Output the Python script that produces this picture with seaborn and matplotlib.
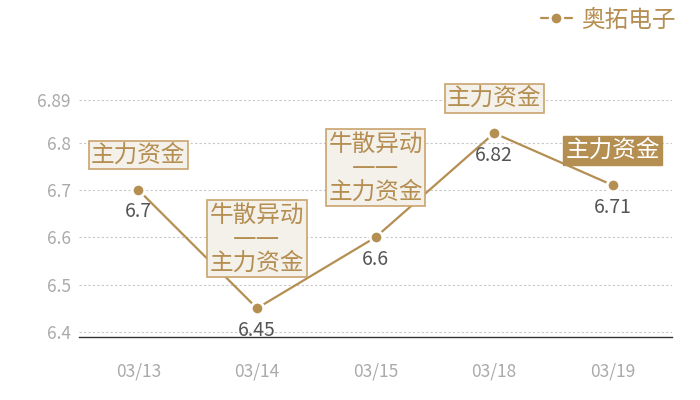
import matplotlib
matplotlib.use("Agg")
import matplotlib.pyplot as plt
import seaborn as sns
import pandas as pd

dates = ["03/13", "03/14", "03/15", "03/18", "03/19"]
prices = [6.7, 6.45, 6.6, 6.82, 6.71]
notes = ["主力资金", "牛散异动\n——\n主力资金", "牛散异动\n——\n主力资金", "主力资金", "主力资金"]
note_filled = [False, False, False, False, True]
y_ticks = [6.4, 6.5, 6.6, 6.7, 6.8, 6.89]
series_name = "奥拓电子"

gold = "#b58e52"
sns.set_theme(style="white")
plt.rcParams["font.family"] = ["Noto Sans CJK SC", "DejaVu Sans"]

df = pd.DataFrame({"date": dates, "price": prices})

fig = plt.figure(figsize=(7, 4), dpi=100)
ax = fig.add_axes([0.113, 0.1575, 0.847, 0.5925])

sns.lineplot(data=df, x="date", y="price", ax=ax, sort=False, color=gold,
             linewidth=1.6, marker="o", markersize=9, markerfacecolor=gold,
             markeredgecolor="white", markeredgewidth=2, label=series_name)

ax.set_xlim(-0.5, len(dates) - 0.5)
ax.set_ylim(6.3894, 6.89)
ax.set_yticks(y_ticks)
ax.set_yticklabels([f"{v:g}" for v in y_ticks])
ax.grid(axis="y", linestyle=(0, (2, 2)), color="#c8c8c8", linewidth=0.8)
ax.grid(axis="x", visible=False)
for s in ["top", "right", "left"]:
    ax.spines[s].set_visible(False)
ax.spines["bottom"].set_color("#333333")
ax.spines["bottom"].set_linewidth(1)
ax.tick_params(axis="both", length=0, labelsize=12.5, labelcolor="#aaaaaa")
ax.tick_params(axis="x", pad=18)
ax.tick_params(axis="y", pad=6)
ax.set_xlabel("")
ax.set_ylabel("")

for i, (v, note, filled) in enumerate(zip(prices, notes, note_filled)):
    ax.annotate(f"{v:g}", (i, v), xytext=(0, -22), textcoords="offset pixels",
                ha="center", va="center", fontsize=14, color="#555555")
    off = -70 if "\n" in note else -35
    if filled:
        box = dict(boxstyle="square,pad=0.1", fc=gold, ec=gold, lw=1)
        tc = "white"
    else:
        box = dict(boxstyle="square,pad=0.1", fc="#f4f0ea", ec="#c9a46e", lw=1.2)
        tc = gold
    # DejaVu first so the dash line is drawn solid; CJK falls back to Noto
    ax.annotate(note, (i, v), xytext=(0, -off), textcoords="offset pixels",
                ha="center", va="center", fontsize=17, color=tc,
                family=["DejaVu Sans", "Noto Sans CJK SC"],
                linespacing=1.0, bbox=box, zorder=5)

ax.legend_.remove()
handles, labels = ax.get_legend_handles_labels()
leg = fig.legend(handles, labels, loc="center right", bbox_to_anchor=(0.965, 0.95),
                 frameon=False, fontsize=17, handlelength=1.3, handletextpad=0.4,
                 borderaxespad=0, borderpad=0)
for t in leg.get_texts():
    t.set_color(gold)

fig.savefig("out.png", dpi=100)
